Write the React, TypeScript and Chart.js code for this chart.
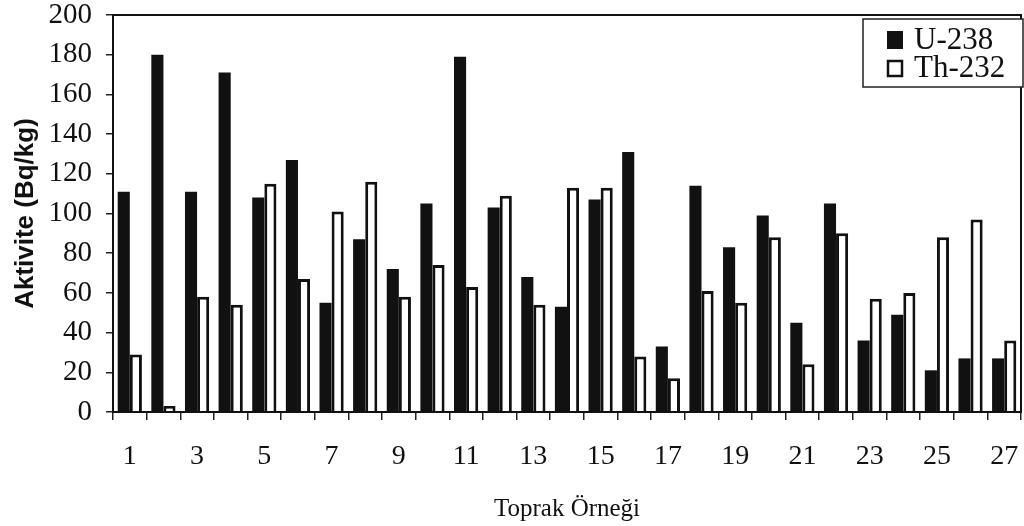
import React, { useEffect, useRef } from 'react';
import { Chart, registerables } from 'chart.js';

Chart.register(...registerables);

const samples = ['1','2','3','4','5','6','7','8','9','10','11','12','13','14','15','16','17','18','19','20','21','22','23','24','25','26','27'];
const u238 = [111, 180, 111, 171, 108, 127, 55, 87, 72, 105, 179, 103, 68, 53, 107, 131, 33, 114, 83, 99, 45, 105, 36, 49, 21, 27, 27];
const th232 = [29, 3, 58, 54, 115, 67, 101, 116, 58, 74, 63, 109, 54, 113, 113, 28, 17, 61, 55, 88, 24, 90, 57, 60, 88, 97, 36];
const seriesNames = ['U-238', 'Th-232'];
const yTitle = 'Aktivite (Bq/kg)';
const xTitle = 'Toprak Örneği';

const SERIF = "'Liberation Serif', 'Times New Roman', serif";
const SANS = "'Liberation Sans', Arial, sans-serif";

const framePlugin = {
  id: 'frameAndLegend',
  afterDraw(chart: any) {
    const { ctx, chartArea } = chart;
    ctx.save();
    // plot frame
    ctx.strokeStyle = '#111';
    ctx.lineWidth = 2;
    ctx.strokeRect(chartArea.left, chartArea.top, chartArea.right - chartArea.left, chartArea.bottom - chartArea.top);
    // legend box
    const bx = chartArea.right - 158;
    const by = chartArea.top + 4;
    const bw = 160;
    const bh = 68;
    ctx.fillStyle = '#fff';
    ctx.fillRect(bx, by, bw, bh);
    ctx.lineWidth = 1.5;
    ctx.strokeStyle = '#222';
    ctx.strokeRect(bx, by, bw, bh);
    ctx.font = `31px ${SERIF}`;
    ctx.textBaseline = 'middle';
    ctx.textAlign = 'left';
    chart.data.datasets.forEach((ds: any, i: number) => {
      const cy = by + 21 + i * 28;
      const sx = bx + 24;
      if (ds.backgroundColor === '#ffffff') {
        ctx.fillStyle = '#fff';
        ctx.fillRect(sx, cy - 8, 16, 17);
        ctx.lineWidth = 2.5;
        ctx.strokeStyle = '#111';
        ctx.strokeRect(sx + 1, cy - 7, 14, 15);
      } else {
        ctx.fillStyle = '#111';
        ctx.fillRect(sx, cy - 9, 16, 18);
      }
      ctx.fillStyle = '#111';
      ctx.fillText(ds.label, bx + 51, cy + 1);
    });
    ctx.restore();
  },
};

export default function App() {
  const ref = useRef<HTMLCanvasElement | null>(null);

  useEffect(() => {
    document.body.style.margin = '0';
    const canvas = ref.current;
    if (!canvas) return;
    const chart = new Chart(canvas, {
      type: 'bar',
      data: {
        labels: samples,
        datasets: [
          {
            label: seriesNames[0],
            data: u238,
            backgroundColor: '#111111',
            borderColor: '#111111',
            borderWidth: 0,
            categoryPercentage: 0.72,
            barPercentage: 1,
          },
          {
            label: seriesNames[1],
            data: th232,
            backgroundColor: '#ffffff',
            borderColor: '#111111',
            borderWidth: 3,
            categoryPercentage: 0.72,
            barPercentage: 1,
          },
        ],
      },
      options: {
        animation: false,
        responsive: false,
        devicePixelRatio: 1,
        layout: { padding: { top: 15, right: 3, left: 0, bottom: 0 } },
        plugins: {
          legend: { display: false },
          tooltip: { enabled: false },
        },
        scales: {
          x: {
            offset: true,
            grid: {
              offset: true,
              drawOnChartArea: false,
              drawTicks: true,
              tickLength: 8,
              color: '#222',
              lineWidth: 1.5,
            },
            border: { display: true, color: '#111', width: 2 },
            ticks: {
              autoSkip: false,
              maxRotation: 0,
              minRotation: 0,
              padding: 20,
              color: '#111',
              font: { family: SERIF, size: 28 },
              callback: (_v: any, i: number) => (i % 2 === 0 ? samples[i] : ''),
            },
            title: {
              display: true,
              text: xTitle,
              color: '#111',
              font: { family: SERIF, size: 25 },
              padding: { top: 0, bottom: 2 },
            },
            afterFit: (scale: any) => {
              scale.height = 114;
              scale.paddingLeft = 0;
              scale.paddingRight = 0;
            },
          },
          y: {
            min: 0,
            max: 200,
            grid: {
              drawOnChartArea: false,
              drawTicks: true,
              tickLength: 7,
              color: '#222',
              lineWidth: 1.5,
            },
            border: { display: true, color: '#111', width: 2 },
            ticks: {
              stepSize: 20,
              padding: 14,
              color: '#111',
              font: { family: SERIF, size: 29 },
            },
            title: {
              display: true,
              text: yTitle,
              color: '#111',
              font: { family: SANS, size: 26, weight: 'bold' },
              padding: { top: 10, bottom: 0 },
            },
            afterFit: (scale: any) => {
              scale.width = 113;
              scale.paddingTop = 0;
              scale.paddingBottom = 0;
            },
          },
        },
      },
      plugins: [framePlugin],
    });
    return () => chart.destroy();
  }, []);

  return (
    <div style={{ width: 1024, height: 526, background: '#fff' }}>
      <canvas ref={ref} width={1024} height={526} style={{ display: 'block' }} />
    </div>
  );
}
